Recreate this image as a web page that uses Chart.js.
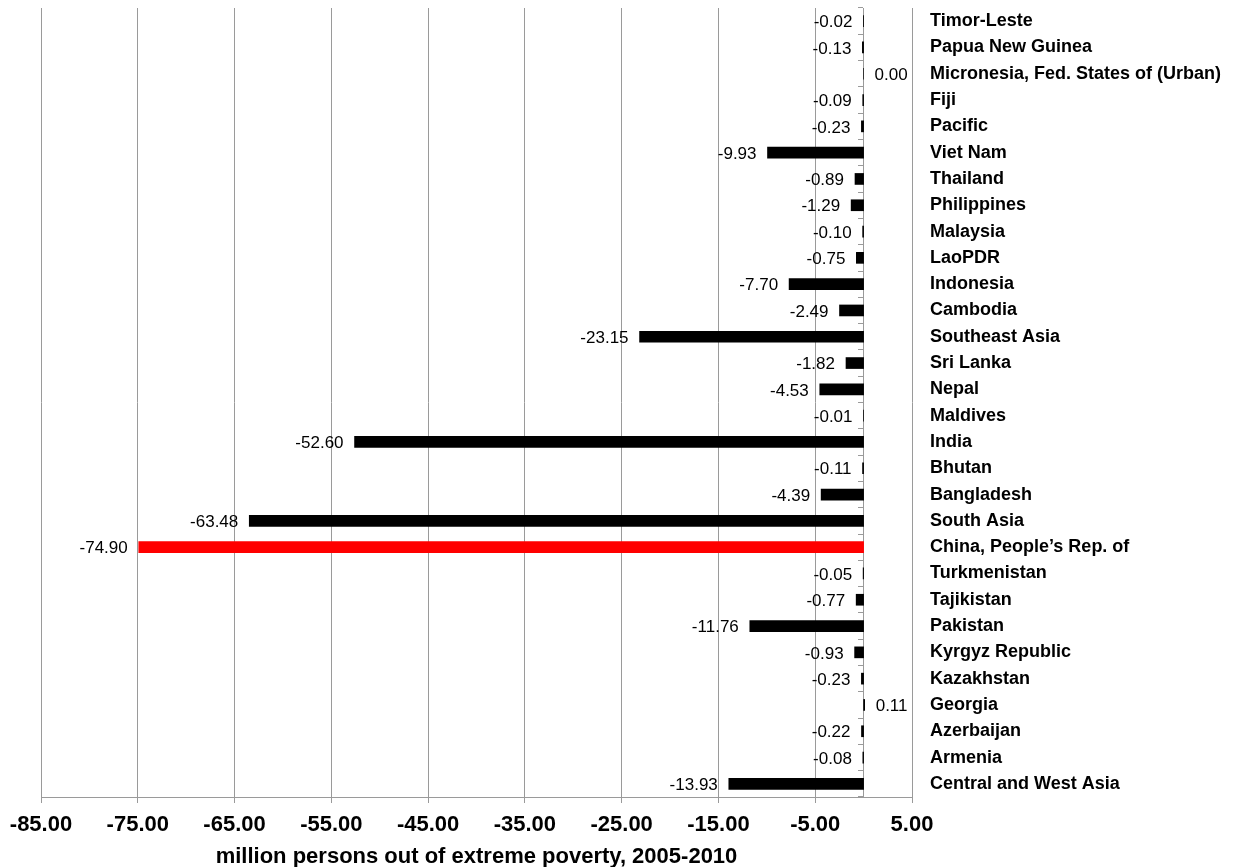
<!DOCTYPE html>
<html>
<head>
<meta charset="utf-8">
<title>Poverty reduction 2005-2010</title>
<script src="https://cdn.jsdelivr.net/npm/chart.js@4/dist/chart.umd.min.js"></script>
<style>
    html, body { margin: 0; padding: 0; background: #fff; }
    #wrap { width: 1234px; height: 867px; position: relative; }
</style>
</head>
<body>
<div id="wrap"><canvas id="poverty-chart"></canvas></div>
<script>
// countries and subregions, top to bottom
var countries = [
    "Timor-Leste", "Papua New Guinea", "Micronesia, Fed. States of (Urban)", "Fiji", "Pacific",
    "Viet Nam", "Thailand", "Philippines", "Malaysia", "LaoPDR", "Indonesia", "Cambodia",
    "Southeast Asia", "Sri Lanka", "Nepal", "Maldives", "India", "Bhutan", "Bangladesh",
    "South Asia", "China, People\u2019s Rep. of", "Turkmenistan", "Tajikistan", "Pakistan",
    "Kyrgyz Republic", "Kazakhstan", "Georgia", "Azerbaijan", "Armenia", "Central and West Asia"
];

// change in millions of people living in extreme poverty
var change = [
    -0.02, -0.13, 0.00, -0.09, -0.23,
    -9.93, -0.89, -1.29, -0.10, -0.75, -7.70, -2.49,
    -23.15, -1.82, -4.53, -0.01, -52.60, -0.11, -4.39,
    -63.48, -74.90, -0.05, -0.77, -11.76,
    -0.93, -0.23, 0.11, -0.22, -0.08, -13.93
];

var highlight = "China, People\u2019s Rep. of";

var xMin = -85, xMax = 5, xStep = 10;

var FONT = "'Liberation Sans', Arial, Helvetica, sans-serif";
var GRID = "#9a9a9a";

// value next to the end of each bar
var valueLabels = {
    id: "valueLabels",
    afterDatasetsDraw: (chart) => {
        var ctx = chart.ctx;
        var meta = chart.getDatasetMeta(0);
        ctx.save();
        ctx.font = "17px " + FONT;
        ctx.fillStyle = "#000";
        ctx.textBaseline = "middle";
        meta.data.forEach(function(bar, i) {
            var v = change[i];
            if (v < 0) {
                ctx.textAlign = "right";
                ctx.fillText(v.toFixed(2), bar.x - 11, bar.y + 1.5);
            } else {
                ctx.textAlign = "left";
                ctx.fillText(v.toFixed(2), bar.x + 11, bar.y + 1.5);
            }
        });
        ctx.restore();
    }
};

// category axes need no extra room above/below the plot
var noVerticalPadding = function(scale) {
    scale.paddingTop = 0;
    scale.paddingBottom = 0;
};

drawPovertyChart = (labels, values) => {
    new Chart(document.getElementById("poverty-chart"), {
        type: "bar",
        data: {
            labels: labels,
            datasets: [{
                data: values,
                backgroundColor: labels.map(function(c) { return c === highlight ? "#ff0000" : "#000000"; }),
                barThickness: 11,
                borderWidth: 0
            }]
        },
        options: {
            indexAxis: "y",
            responsive: true,
            maintainAspectRatio: false,
            animation: false,
            layout: { padding: { top: 8, left: 41, right: 0, bottom: 0 } },
            plugins: {
                legend: { display: false },
                tooltip: { enabled: false }
            },
            scales: {
                x: {
                    type: "linear",
                    min: xMin,
                    max: xMax,
                    afterFit: function(scale) { scale.height = 70; },
                    ticks: {
                        stepSize: xStep,
                        padding: 9,
                        color: "#000",
                        font: { family: FONT, size: 22, weight: "bold" },
                        callback: function(v) { return v.toFixed(2); }
                    },
                    grid: { color: GRID, tickLength: 6, lineWidth: 1 },
                    border: { color: GRID },
                    title: {
                        display: true,
                        text: "million persons out of extreme poverty, 2005-2010",
                        color: "#000",
                        font: { family: FONT, size: 22, weight: "bold" },
                        padding: { top: 0, bottom: -3 }
                    }
                },
                y: {
                    position: "right",
                    afterFit: function(scale) {
                        scale.width = 322;
                        noVerticalPadding(scale);
                    },
                    grid: { display: false, drawTicks: false },
                    border: { display: false },
                    ticks: {
                        padding: 18,
                        color: "#000",
                        font: { family: FONT, size: 18, weight: "bold" }
                    }
                },
                // zero line with the small category ticks
                y0: {
                    type: "category",
                    position: { x: 0 },
                    offset: true,
                    afterFit: noVerticalPadding,
                    grid: { offset: true, drawOnChartArea: false, tickLength: 5, color: GRID },
                    border: { display: true, color: GRID },
                    ticks: { display: false }
                }
            }
        },
        plugins: [valueLabels]
    });
}

(function (){
    drawPovertyChart(countries, change);
}());
</script>
</body>
</html>
